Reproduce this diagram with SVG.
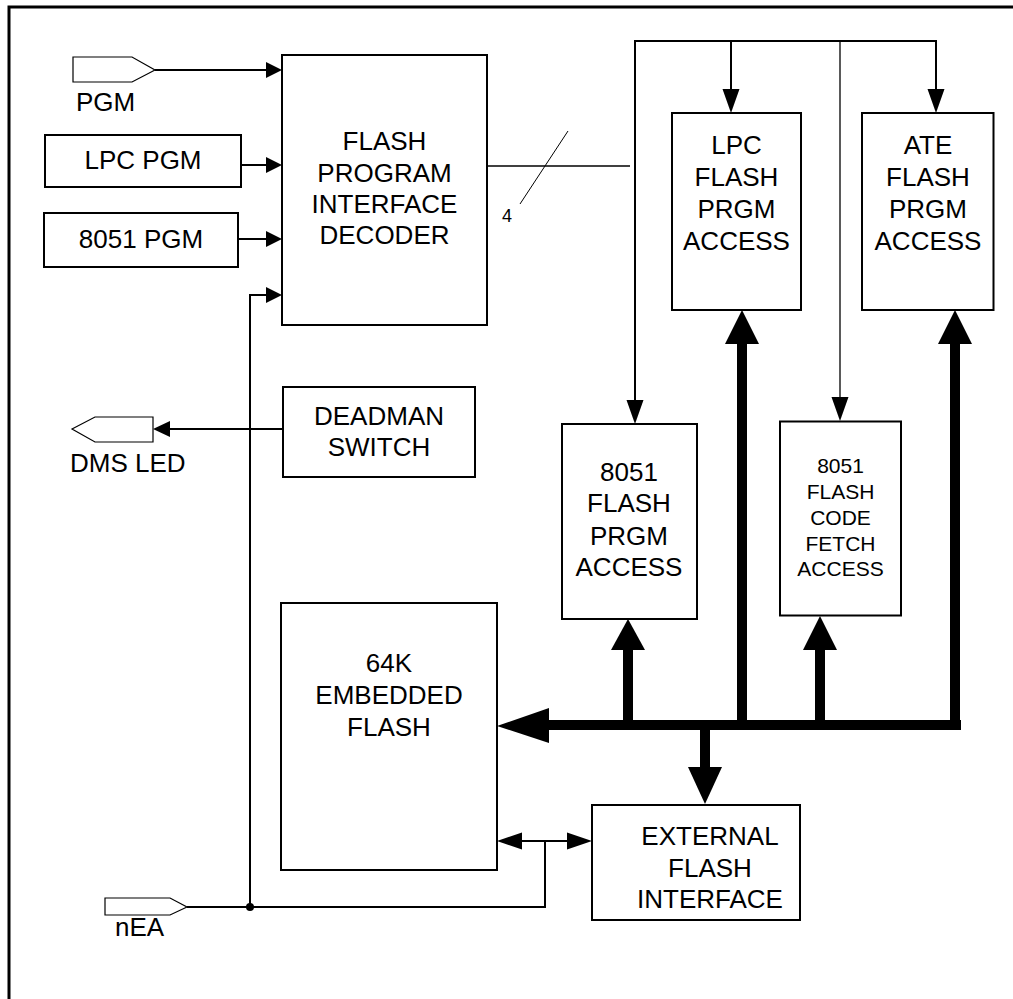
<svg xmlns="http://www.w3.org/2000/svg" width="1013" height="999" viewBox="0 0 1013 999">
<style>
.box{fill:#fff;stroke:#000;stroke-width:2}
.pin{fill:#fff;stroke:#000;stroke-width:1.2}
.t{font-family:"Liberation Sans",Arial,sans-serif;font-size:26px;fill:#000;text-anchor:middle}
.ts{font-family:"Liberation Sans",Arial,sans-serif;font-size:21px;fill:#000;text-anchor:middle}
.tl{font-family:"Liberation Sans",Arial,sans-serif;font-size:26px;fill:#000;text-anchor:start}
.w{stroke:#000;stroke-width:2;fill:none}
.thin{stroke:#000;stroke-width:1.3;fill:none}
.bus{stroke:#000;stroke-width:10;fill:none}
.ah{fill:#000;stroke:none}
</style>
<rect x="0" y="0" width="1013" height="999" fill="#fff"/>
<path d="M9,999 V7 H1013" fill="none" stroke="#000" stroke-width="3"/>

<g id="pgm">
<polygon class="pin" points="73,57 132,57 155,70 132,82 73,82"/>
<text class="tl" x="76" y="111">PGM</text>
</g>
<g id="lpc-pgm">
<rect class="box" x="45" y="135" width="196" height="52"/>
<text class="t" x="143" y="169">LPC PGM</text>
</g>
<g id="pgm-8051">
<rect class="box" x="44" y="213" width="194" height="54"/>
<text class="t" x="141" y="248">8051 PGM</text>
</g>
<g id="decoder">
<rect class="box" x="282" y="55" width="205" height="270"/>
<text class="t" x="384.5" y="150">FLASH</text>
<text class="t" x="384.5" y="182">PROGRAM</text>
<text class="t" x="384.5" y="213">INTERFACE</text>
<text class="t" x="384.5" y="244">DECODER</text>
</g>
<g id="lpc-access">
<rect class="box" x="672" y="113" width="129" height="197"/>
<text class="t" x="736.5" y="154">LPC</text>
<text class="t" x="736.5" y="186">FLASH</text>
<text class="t" x="736.5" y="218">PRGM</text>
<text class="t" x="736.5" y="250">ACCESS</text>
</g>
<g id="ate-access">
<rect class="box" x="862" y="113" width="131.5" height="197"/>
<text class="t" x="928" y="154">ATE</text>
<text class="t" x="928" y="186">FLASH</text>
<text class="t" x="928" y="218">PRGM</text>
<text class="t" x="928" y="250">ACCESS</text>
</g>
<g id="deadman">
<rect class="box" x="283" y="387" width="192" height="90"/>
<text class="t" x="379" y="425">DEADMAN</text>
<text class="t" x="379" y="456">SWITCH</text>
</g>
<g id="dms-led">
<polygon class="pin" points="72,429 95,417 153,417 153,442 95,442"/>
<text class="tl" x="70" y="472">DMS LED</text>
</g>
<g id="prgm-8051">
<rect class="box" x="562" y="424" width="135" height="195"/>
<text class="t" x="629" y="481">8051</text>
<text class="t" x="629" y="512">FLASH</text>
<text class="t" x="629" y="545">PRGM</text>
<text class="t" x="629" y="576">ACCESS</text>
</g>
<g id="code-fetch">
<rect class="box" x="780" y="421.5" width="121" height="194"/>
<text class="ts" x="840.5" y="473">8051</text>
<text class="ts" x="840.5" y="499">FLASH</text>
<text class="ts" x="840.5" y="525">CODE</text>
<text class="ts" x="840.5" y="551">FETCH</text>
<text class="ts" x="840.5" y="576">ACCESS</text>
</g>
<g id="embedded">
<rect class="box" x="281" y="603" width="216" height="267"/>
<text class="t" x="389" y="672">64K</text>
<text class="t" x="389" y="704">EMBEDDED</text>
<text class="t" x="389" y="736">FLASH</text>
</g>
<g id="external">
<rect class="box" x="592" y="805" width="208" height="115"/>
<text class="t" x="710" y="845">EXTERNAL</text>
<text class="t" x="710" y="877">FLASH</text>
<text class="t" x="710" y="908">INTERFACE</text>
</g>
<g id="nea">
<polygon class="pin" points="105,898 170,898 187,907 170,915 105,915"/>
<text class="tl" x="115" y="936">nEA</text>
</g>

<g id="connectors">
<line class="w" x1="155" y1="70" x2="268" y2="70"/>
<polygon class="ah" points="282,70 266,62 266,78"/>
<line class="w" x1="241" y1="165" x2="268" y2="165"/>
<polygon class="ah" points="282,165 266,157 266,173"/>
<line class="w" x1="238" y1="239" x2="268" y2="239"/>
<polygon class="ah" points="282,239 266,231 266,247"/>
<path class="w" d="M250,907 V295 H268"/>
<polygon class="ah" points="282,295 266,287 266,303"/>

<line class="thin" x1="487" y1="166" x2="630" y2="166"/>
<line stroke="#000" stroke-width="1" x1="520" y1="204" x2="568" y2="131"/>
<text x="502" y="222" font-family="'Liberation Sans',Arial,sans-serif" font-size="18">4</text>

<path class="w" d="M635,401 V41 H936 V90"/>
<line class="w" x1="731" y1="41" x2="731" y2="90"/>
<line class="thin" x1="840" y1="41" x2="840" y2="398"/>
<polygon class="ah" points="635,424 626.5,400 643.5,400"/>
<polygon class="ah" points="731,113 722.5,89 739.5,89"/>
<polygon class="ah" points="840,421 831.5,397 848.5,397"/>
<polygon class="ah" points="936,113 927.5,89 944.5,89"/>

<line class="w" x1="283" y1="429" x2="169" y2="429"/>
<polygon class="ah" points="153,429 170,421 170,437"/>

<line class="bus" x1="547" y1="725" x2="961" y2="725"/>
<polygon class="ah" points="497,726 549,708 549,743"/>
<line class="bus" x1="742" y1="730" x2="742" y2="342"/>
<polygon class="ah" points="742,310 725,344 759,344"/>
<line class="bus" x1="955" y1="730" x2="955" y2="342"/>
<polygon class="ah" points="955,310 938,344 972,344"/>
<line class="bus" x1="628" y1="725" x2="628" y2="648"/>
<polygon class="ah" points="628,619 611,650 645,650"/>
<line class="bus" x1="820" y1="725" x2="820" y2="648"/>
<polygon class="ah" points="820,616 803,650 837,650"/>
<line class="bus" x1="705" y1="725" x2="705" y2="769"/>
<polygon class="ah" points="705,804 688,767 722,767"/>

<line class="w" x1="521" y1="841" x2="568" y2="841"/>
<polygon class="ah" points="497,841 522,832.5 522,849.5"/>
<polygon class="ah" points="592,841 567,832.5 567,849.5"/>
<path class="w" d="M545,841 V907 H187"/>
<circle cx="250" cy="907" r="4" fill="#000"/>
</g>
</svg>
